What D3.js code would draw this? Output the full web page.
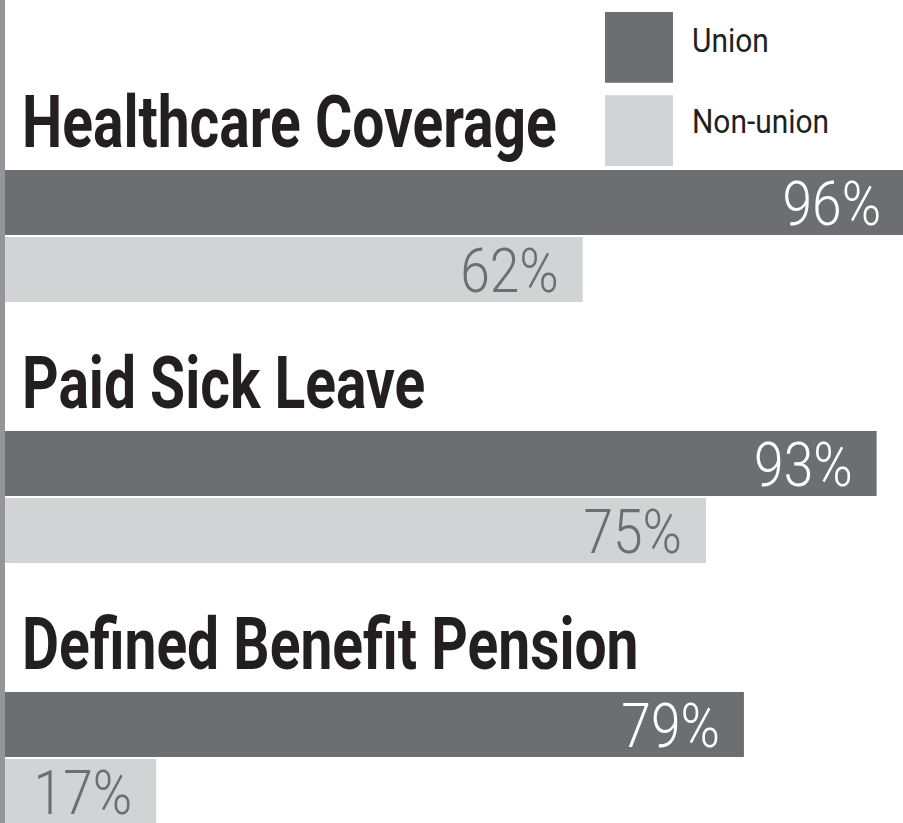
<!DOCTYPE html>
<html>
<head>
<meta charset="utf-8">
<script src="https://d3js.org/d3.v7.min.js"></script>
<style>
  html, body { margin: 0; padding: 0; background: #fff; overflow: hidden; }
</style>
</head>
<body>
<div id="chart-area"></div>
<script>
// data
var categories = ["Healthcare Coverage", "Paid Sick Leave", "Defined Benefit Pension"];
var seriesNames = ["Union", "Non-union"];
var unionValues = [96, 93, 79];
var nonUnionValues = [62, 75, 17];

var width = 903, height = 823;

var colors = { "Union": "#6d6e71", "Non-union": "#d1d3d4" };
var labelColors = { "Union": "#ffffff", "Non-union": "#6d6e71" };

var rows = categories.map(function (c, i) {
    return { category: c, values: [
        { series: "Union", value: unionValues[i] },
        { series: "Non-union", value: nonUnionValues[i] }
    ] };
});

var svg = d3.select("#chart-area")
    .append("svg")
    .attr("width", width)
    .attr("height", height)
    .style("display", "block");

// xScale (bars run off the left edge, under the axis strip)
var x = d3.scaleLinear()
    .domain([0, 100])
    .range([-5, 943]);

// group scale
var y = d3.scaleBand()
    .domain(categories)
    .range([170, 953]);

// bar-in-group scale
var ySub = d3.scaleBand()
    .domain(seriesNames)
    .range([0, 132])
    .paddingInner(0.03);

var groups = svg.selectAll(".group")
    .data(rows)
    .enter()
    .append("g")
    .attr("class", "group")
    .attr("transform", function (d) { return "translate(0," + y(d.category) + ")"; });

// titles
groups.append("text")
    .attr("class", "title")
    .attr("transform", "translate(22,-23) scale(0.78,1)")
    .attr("font-family", "Roboto, 'Liberation Sans', sans-serif")
    .attr("font-weight", 700)
    .attr("font-size", "73px")
    .attr("fill", "#231f20")
    .text(function (d) { return d.category; });

// bars
groups.selectAll("rect")
    .data(function (d) { return d.values; })
    .enter()
    .append("rect")
    .attr("x", x(0))
    .attr("y", function (d) { return ySub(d.series); })
    .attr("width", function (d) { return x(d.value) - x(0); })
    .attr("height", ySub.bandwidth())
    .attr("fill", function (d) { return colors[d.series]; });

// value labels
groups.selectAll(".value")
    .data(function (d) { return d.values; })
    .enter()
    .append("text")
    .attr("class", "value")
    .attr("transform", function (d) {
        return "translate(" + (x(d.value) - 24) + "," + (ySub(d.series) + 55) + ") scale(0.86,1)";
    })
    .attr("text-anchor", "end")
    .attr("font-family", "Roboto, 'Liberation Sans', sans-serif")
    .attr("font-weight", 300)
    .attr("font-size", "62px")
    .attr("fill", function (d) { return labelColors[d.series]; })
    .text(function (d) { return d.value + "%"; });

// left axis strip
svg.append("rect")
    .attr("x", 0)
    .attr("y", 0)
    .attr("width", 5)
    .attr("height", height)
    .attr("fill", "#939598");

// legend
var legendY = d3.scaleBand()
    .domain(seriesNames)
    .range([12, 166])
    .paddingInner(0.15);

var legend = svg.selectAll(".legend")
    .data(seriesNames)
    .enter()
    .append("g")
    .attr("class", "legend")
    .attr("transform", function (d) { return "translate(605," + legendY(d) + ")"; });

legend.append("rect")
    .attr("width", 68)
    .attr("height", legendY.bandwidth())
    .attr("fill", function (d) { return colors[d]; });

legend.append("text")
    .attr("transform", function (d, i) { return "translate(87," + (i === 0 ? 40 : 38) + ") scale(0.88,1)"; })
    .attr("font-family", "Roboto, 'Liberation Sans', sans-serif")
    .attr("font-size", "34px")
    .attr("fill", "#231f20")
    .text(function (d) { return d; });
</script>
</body>
</html>
